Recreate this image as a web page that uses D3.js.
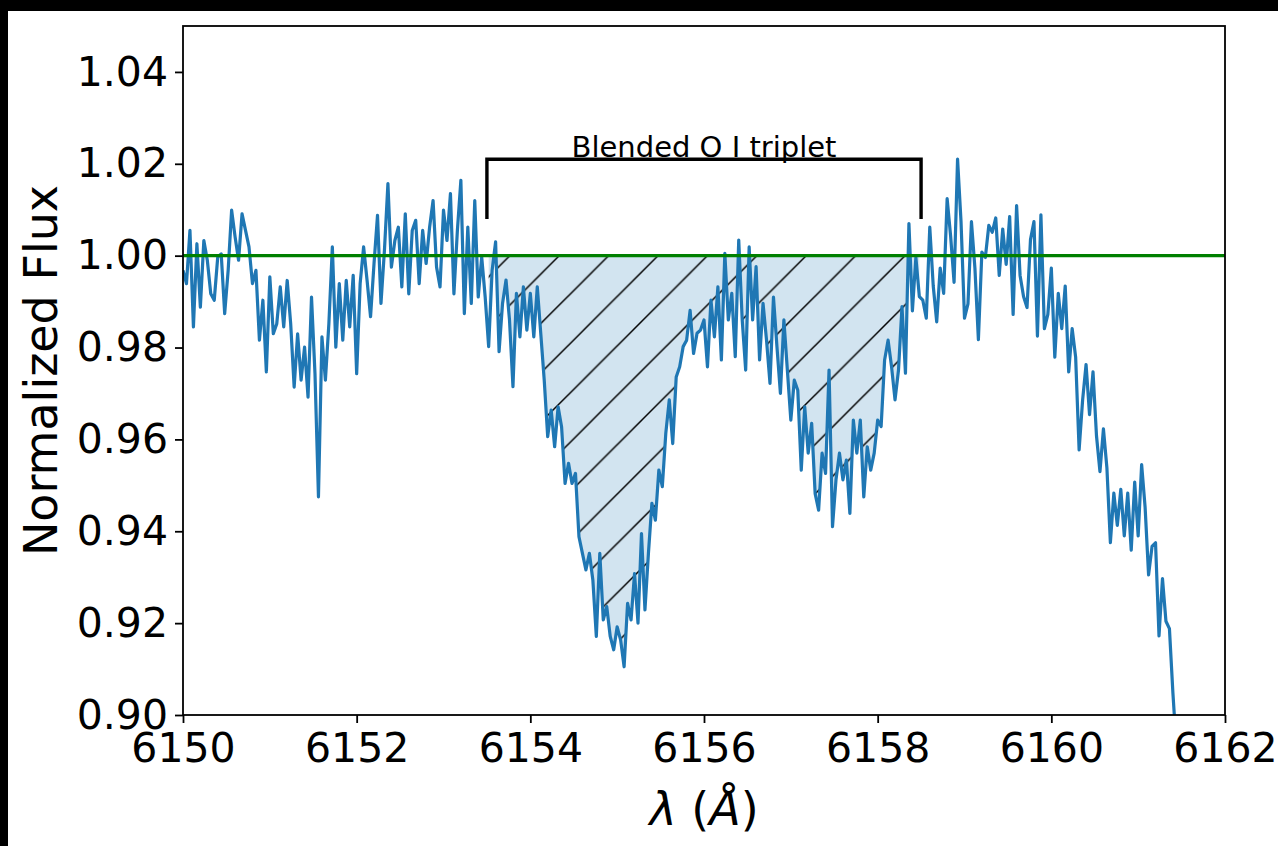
<!DOCTYPE html>
<html>
<head>
<meta charset="utf-8">
<script src="https://cdn.jsdelivr.net/npm/d3@7"></script>
<style>
  html, body { margin: 0; padding: 0; background: #fff; }
  svg { display: block; font-family: "DejaVu Sans", "Liberation Sans", sans-serif; }
</style>
</head>
<body>
<svg id="chart" width="1278" height="846"></svg>
<script>
// Spectrum sampled on a regular wavelength grid (Angstrom)
const lambdaStart = 6150.0;
const lambdaStep = 0.04;

// Normalized flux, one value per grid step
const flux = [
  0.9968, 0.9939, 1.0055, 0.9845, 1.0026, 0.9888, 1.0033, 0.9990, 0.9917, 0.9903,
  0.9997, 1.0004, 0.9874, 0.9968, 1.0099, 1.0041, 0.9990, 1.0091, 1.0055, 1.0019,
  0.9939, 0.9968, 0.9816, 0.9903, 0.9747, 0.9954, 0.9830, 0.9852, 0.9932, 0.9845,
  0.9946, 0.9852, 0.9714, 0.9830, 0.9729, 0.9801, 0.9692, 0.9910, 0.9743, 0.9475,
  0.9823, 0.9729, 0.9852, 1.0019, 0.9801, 0.9939, 0.9816, 0.9946, 0.9845, 0.9957,
  0.9743, 0.9939, 1.0019, 0.9946, 0.9867, 0.9983, 1.0088, 0.9896, 1.0012, 1.0157,
  0.9975, 1.0033, 1.0062, 0.9932, 1.0091, 0.9917, 1.0055, 1.0077, 0.9939, 1.0055,
  0.9983, 1.0062, 1.0120, 0.9975, 0.9932, 1.0099, 1.0033, 1.0135, 0.9917, 1.0055,
  1.0164, 0.9874, 1.0062, 0.9896, 1.0120, 0.9910, 0.9997, 0.9910, 0.9802, 0.9968,
  1.0030, 0.9791, 0.9896, 0.9947, 0.9860, 0.9715, 0.9918, 0.9823, 0.9932, 0.9838,
  0.9918, 0.9823, 0.9932, 0.9831, 0.9729, 0.9606, 0.9664, 0.9584, 0.9671, 0.9627,
  0.9504, 0.9548, 0.9504, 0.9526, 0.9388, 0.9352, 0.9316, 0.9352, 0.9294, 0.9171,
  0.9352, 0.9207, 0.9236, 0.9171, 0.9142, 0.9192, 0.9163, 0.9105, 0.9243, 0.9207,
  0.9308, 0.9200, 0.9395, 0.9229, 0.9352, 0.9461, 0.9424, 0.9533, 0.9497, 0.9613,
  0.9686, 0.9591, 0.9736, 0.9758, 0.9802, 0.9816, 0.9881, 0.9787, 0.9831, 0.9838,
  0.9860, 0.9758, 0.9903, 0.9823, 0.9932, 0.9773, 1.0005, 0.9860, 0.9918, 0.9780,
  1.0034, 0.9860, 0.9751, 1.0019, 0.9860, 0.9976, 0.9773, 0.9896, 0.9816, 0.9722,
  0.9910, 0.9802, 0.9700, 0.9860, 0.9751, 0.9642, 0.9729, 0.9707, 0.9533, 0.9671,
  0.9570, 0.9635, 0.9482, 0.9446, 0.9570, 0.9526, 0.9751, 0.9410, 0.9512, 0.9570,
  0.9512, 0.9555, 0.9439, 0.9642, 0.9570, 0.9642, 0.9475, 0.9584, 0.9533, 0.9570,
  0.9642, 0.9628, 0.9773, 0.9816, 0.9758, 0.9686, 0.9751, 0.9889, 0.9744, 1.0070,
  0.9880, 0.9996, 0.9911, 0.9903, 0.9864, 1.0062, 0.9934, 0.9856, 0.9973, 0.9918,
  1.0124, 1.0043, 0.9942, 1.0210, 1.0074, 0.9864, 0.9895, 1.0074, 0.9973, 0.9817,
  1.0008, 0.9996, 1.0066, 1.0051, 1.0082, 0.9957, 1.0058, 0.9981, 1.0085, 0.9872,
  1.0109, 0.9957, 0.9911, 0.9887, 1.0035, 1.0074, 0.9825, 1.0089, 0.9841, 0.9872,
  0.9973, 0.9779, 0.9918, 0.9841, 0.9934, 0.9747, 0.9841, 0.9779, 0.9577, 0.9685,
  0.9763, 0.9654, 0.9747, 0.9608, 0.9530, 0.9623, 0.9538, 0.9375, 0.9483, 0.9413,
  0.9491, 0.9390, 0.9483, 0.9359, 0.9507, 0.9390, 0.9545, 0.9452, 0.9305, 0.9367,
  0.9375, 0.9172, 0.9297, 0.9204, 0.9188, 0.9048, 0.8930, 0.8850
];

const xTicks = [6150, 6152, 6154, 6156, 6158, 6160, 6162];
const yTicks = [0.90, 0.92, 0.94, 0.96, 0.98, 1.00, 1.02, 1.04];
const xDomain = [6150, 6162];
const yDomain = [0.90, 1.05];

const continuumLevel = 1.0;
const tripletRange = [6153.5, 6158.5];
const bracketLow = 1.008;
const bracketHigh = 1.021;
const bracketLabel = "Blended O I triplet";
const bracketLabelAt = [6156.0, 1.0214];

// ---- layout ----
const W = 1278, H = 846;
const plot = { left: 183, right: 1225, top: 26, bottom: 715 };
const spectrumColor = "#1f77b4";

const svg = d3.select("#chart");

// dark frame strips along the top and left edges
svg.append("rect").attr("x", 0).attr("y", 0).attr("width", W).attr("height", H).attr("fill", "#fff");
svg.append("rect").attr("x", 0).attr("y", 0).attr("width", W).attr("height", 11).attr("fill", "#000");
svg.append("rect").attr("x", 0).attr("y", 0).attr("width", 8).attr("height", H).attr("fill", "#000");

const x = d3.scaleLinear().domain(xDomain).range([plot.left, plot.right]);
const y = d3.scaleLinear().domain(yDomain).range([plot.bottom, plot.top]);

const points = flux.map((f, i) => ({ lam: lambdaStart + i * lambdaStep, f }));

const defs = svg.append("defs");
defs.append("clipPath").attr("id", "plotClip")
  .append("rect")
  .attr("x", plot.left).attr("y", plot.top)
  .attr("width", plot.right - plot.left).attr("height", plot.bottom - plot.top);

// diagonal "/" hatch
const P = 49.4;
const hatch = defs.append("pattern")
  .attr("id", "hatch")
  .attr("patternUnits", "userSpaceOnUse")
  .attr("x", 24.5).attr("y", 0)
  .attr("width", P).attr("height", P);
hatch.append("rect").attr("width", P).attr("height", P).attr("fill", "none");
const hatchSegs = [[0, P, P, 0], [-2, 2, 2, -2], [P - 2, P + 2, P + 2, P - 2]];
hatchSegs.forEach(s => hatch.append("line")
  .attr("x1", s[0]).attr("y1", s[1]).attr("x2", s[2]).attr("y2", s[3])
  .attr("stroke", "#000").attr("stroke-width", 1.5));

const g = svg.append("g").attr("clip-path", "url(#plotClip)");

// absorption band: area between the continuum and the flux where flux dips below it
const band = points.filter(d => d.lam >= tripletRange[0] - 1e-9 && d.lam <= tripletRange[1] + 1e-9);
const bandArea = d3.area()
  .x(d => x(d.lam))
  .y0(y(continuumLevel))
  .y1(d => y(Math.min(d.f, continuumLevel)));

g.append("path").datum(band)
  .attr("d", bandArea)
  .attr("fill", spectrumColor).attr("fill-opacity", 0.2);
g.append("path").datum(band)
  .attr("d", bandArea)
  .attr("fill", "url(#hatch)");

// spectrum
g.append("path").datum(points)
  .attr("d", d3.line().x(d => x(d.lam)).y(d => y(d.f)))
  .attr("fill", "none")
  .attr("stroke", spectrumColor)
  .attr("stroke-width", 3.2)
  .attr("stroke-linejoin", "round");

// continuum level
g.append("line")
  .attr("x1", plot.left).attr("x2", plot.right)
  .attr("y1", y(continuumLevel)).attr("y2", y(continuumLevel))
  .attr("stroke", "#008000").attr("stroke-width", 3.2);

// bracket marking the blended triplet
svg.append("path")
  .attr("d", d3.line()([
    [x(tripletRange[0]), y(bracketLow)],
    [x(tripletRange[0]), y(bracketHigh)],
    [x(tripletRange[1]), y(bracketHigh)],
    [x(tripletRange[1]), y(bracketLow)]
  ]))
  .attr("fill", "none").attr("stroke", "#000").attr("stroke-width", 3.4);

svg.append("text")
  .attr("x", x(bracketLabelAt[0])).attr("y", y(bracketLabelAt[1]))
  .attr("text-anchor", "middle")
  .attr("font-size", 29)
  .attr("fill", "#000")
  .text(bracketLabel);

// axes
const yAxis = d3.axisLeft(y).tickValues(yTicks).tickFormat(d3.format(".2f"))
  .tickSize(8).tickSizeOuter(0).tickPadding(7);
const xAxis = d3.axisBottom(x).tickValues(xTicks).tickFormat(d3.format("d"))
  .tickSize(8).tickSizeOuter(0).tickPadding(10);

const gy = svg.append("g").attr("transform", `translate(${plot.left},0)`).call(yAxis);
const gx = svg.append("g").attr("transform", `translate(0,${plot.bottom})`).call(xAxis);
[gx, gy].forEach(a => {
  a.select(".domain").remove();
  a.selectAll(".tick line").attr("stroke", "#000").attr("stroke-width", 1.8);
  a.selectAll(".tick text")
    .attr("fill", "#000")
    .attr("font-size", 41)
    .attr("font-family", "DejaVu Sans, sans-serif");
});

// frame
svg.append("rect")
  .attr("x", plot.left).attr("y", plot.top)
  .attr("width", plot.right - plot.left).attr("height", plot.bottom - plot.top)
  .attr("fill", "none").attr("stroke", "#000").attr("stroke-width", 1.8);

// axis titles
svg.append("text")
  .attr("transform", `translate(57,${(plot.top + plot.bottom) / 2}) rotate(-90)`)
  .attr("text-anchor", "middle")
  .attr("font-size", 46)
  .attr("fill", "#000")
  .text("Normalized Flux");

const xt = svg.append("text")
  .attr("x", (plot.left + plot.right) / 2).attr("y", 825)
  .attr("text-anchor", "middle")
  .attr("font-size", 46)
  .attr("fill", "#000");
xt.append("tspan").attr("font-style", "italic").text("λ");
xt.append("tspan").text(" (");
xt.append("tspan").attr("font-style", "italic").text("Å");
xt.append("tspan").text(")");
</script>
</body>
</html>
